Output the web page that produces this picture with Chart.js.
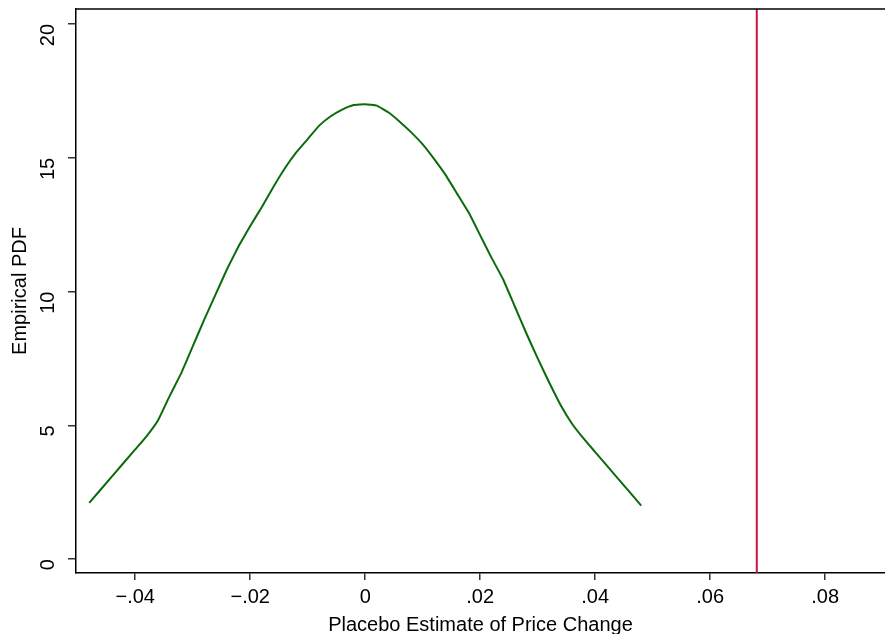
<!DOCTYPE html>
<html>
<head>
<meta charset="utf-8">
<script src="https://cdn.jsdelivr.net/npm/chart.js@4.4.1/dist/chart.umd.min.js"></script>
<style>
  html, body { margin: 0; padding: 0; background: #fff; }
  #wrap { width: 885px; height: 634px; }
</style>
</head>
<body>
<div id="wrap"><canvas id="pdfChart"></canvas></div>
<script>
// placebo density curve
const xVals = [-0.048, -0.044, -0.040, -0.038, -0.036, -0.034, -0.032, -0.030, -0.028, -0.026,
               -0.024, -0.022, -0.020, -0.018, -0.016, -0.014, -0.012, -0.010, -0.008, -0.006,
               -0.004, -0.002, 0, 0.002, 0.004, 0.006, 0.008, 0.010, 0.012, 0.014,
               0.016, 0.018, 0.020, 0.022, 0.024, 0.026, 0.028, 0.030, 0.032, 0.034,
               0.036, 0.038, 0.040, 0.044, 0.048];
const pdfVals = [2.1, 3.1, 4.1, 4.6, 5.2, 6.1, 6.95, 7.95, 8.95, 9.9,
                 10.85, 11.7, 12.45, 13.15, 13.9, 14.6, 15.2, 15.7, 16.2, 16.55,
                 16.8, 16.97, 17.0, 16.95, 16.7, 16.35, 15.95, 15.5, 14.95, 14.35,
                 13.65, 12.95, 12.1, 11.25, 10.45, 9.45, 8.45, 7.5, 6.6, 5.75,
                 5.05, 4.5, 4.0, 3.0, 2.0];
const actualEstimate = 0.0681;
const xTicks = [-0.04, -0.02, 0, 0.02, 0.04, 0.06, 0.08];
const yTicks = [0, 5, 10, 15, 20];

const xMin = -0.0503, xMax = 0.0904;
const yMin = -0.52, yMax = 20.56;

function fmtX(v) {
    if (Math.abs(v) < 1e-9) return '0';
    let s = Math.abs(v).toFixed(2).replace(/^0/, '');
    return (v < 0 ? '\u2212' : '') + s;
}

// top frame line of the plot region
const frameTop = {
    id: 'frameTop',
    afterDraw(chart) {
        const a = chart.chartArea, ctx = chart.ctx;
        ctx.save();
        ctx.strokeStyle = '#000';
        ctx.lineWidth = 1.5;
        ctx.beginPath();
        ctx.moveTo(a.left, a.top);
        ctx.lineTo(a.right + 5, a.top);
        ctx.stroke();
        ctx.restore();
    }
};

const font = { family: 'Liberation Sans, Arial', size: 20 };

const ctx = document.getElementById('pdfChart').getContext('2d');
new Chart(ctx, {
    type: 'line',
    data: {
        datasets: [{
            data: xVals.map((x, i) => ({ x: x, y: pdfVals[i] })),
            borderColor: '#0b6b0b',
            borderWidth: 2,
            pointRadius: 0,
            tension: 0.1,
            fill: false
        }, {
            data: [{ x: actualEstimate, y: yMin }, { x: actualEstimate, y: yMax }],
            borderColor: '#cc1040',
            borderWidth: 2,
            pointRadius: 0,
            fill: false
        }]
    },
    options: {
        responsive: true,
        maintainAspectRatio: false,
        animation: false,
        layout: { padding: { top: 9, right: 0, left: 0, bottom: 0 } },
        plugins: { legend: { display: false }, tooltip: { enabled: false } },
        scales: {
            x: {
                type: 'linear',
                min: xMin,
                max: xMax,
                afterBuildTicks: s => { s.ticks = xTicks.map(v => ({ value: v })); },
                afterFit: s => { s.height = 61; s.paddingLeft = 0; s.paddingRight = 0; },
                grid: { drawOnChartArea: false, tickLength: 7, tickColor: '#333', lineWidth: 1.5 },
                border: { color: '#000', width: 1.5 },
                ticks: {
                    color: '#000', padding: 5, maxRotation: 0,
                    font: font,
                    callback: v => fmtX(v)
                },
                title: {
                    display: true, text: 'Placebo Estimate of Price Change', color: '#000',
                    font: font,
                    padding: { top: 0, bottom: -3 }
                }
            },
            y: {
                type: 'linear',
                min: yMin,
                max: yMax,
                afterBuildTicks: s => { s.ticks = yTicks.map(v => ({ value: v })); },
                afterFit: s => { s.width = 76; s.paddingTop = 0; s.paddingBottom = 0; },
                grid: { drawOnChartArea: false, tickLength: 8, tickColor: '#333', lineWidth: 1.5 },
                border: { color: '#000', width: 1.5 },
                ticks: {
                    color: '#000', padding: 20, minRotation: 90, maxRotation: 90,
                    font: font,
                    callback: v => String(v)
                },
                title: {
                    display: true, text: 'Empirical PDF', color: '#000',
                    font: font,
                    padding: { top: 8, bottom: 0 }
                }
            }
        }
    },
    plugins: [frameTop]
});
</script>
</body>
</html>
